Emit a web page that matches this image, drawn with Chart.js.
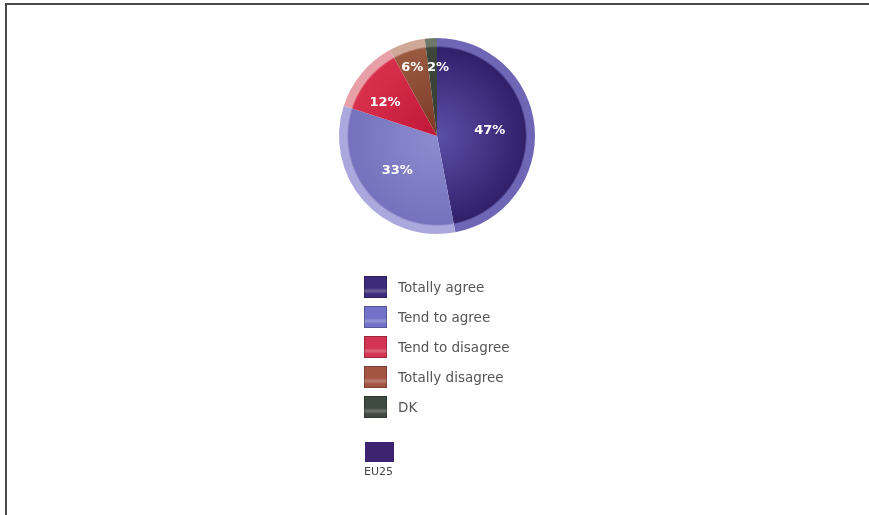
<!DOCTYPE html>
<html>
<head>
<meta charset="utf-8">
<script src="https://cdn.jsdelivr.net/npm/chart.js@4.4.0/dist/chart.umd.min.js"></script>
<style>
  html, body { margin: 0; padding: 0; background: #fff; }
  #frame { position: absolute; left: 5px; top: 3px; width: 864px; height: 512px;
           border-top: 2px solid #4a4a4a; border-left: 2px solid #4a4a4a; }
  #wrap { position: absolute; left: 0; top: 0; width: 869px; height: 515px; }
  .lg-item { position: absolute; left: 364px; height: 22px; }
  .lg-box { position: absolute; left: 0; top: 0; width: 23px; height: 22px; box-sizing: border-box; }
  .lg-text { position: absolute; left: 34px; top: 0; line-height: 22px; white-space: nowrap;
             font-family: "DejaVu Sans", sans-serif; font-size: 13.5px; color: #555; }
  #series-box { position: absolute; left: 365px; top: 442px; width: 29px; height: 20px; }
  #series-text { position: absolute; left: 364px; top: 465px; font-family: "DejaVu Sans", sans-serif;
                 font-size: 11px; color: #444; }
</style>
</head>
<body>
<div id="frame"></div>
<div id="wrap"><canvas id="pie"></canvas></div>
<div id="legend"></div>
<div id="series-box"></div>
<div id="series-text"></div>
<script>
// data
const categories = ["Totally agree", "Tend to agree", "Tend to disagree", "Totally disagree", "DK"];
const values = [47, 33, 12, 6, 2];
const seriesName = "EU25";

// slice shading: [inner, edge, rim]
const shades = [
  ["#5c4fa8", "#31206a", "#7066b6"],
  ["#8e8cd0", "#7472bc", "#aba8de"],
  ["#c01638", "#d8304c", "#e8a0a8"],
  ["#7a3826", "#9a5a40", "#d0a898"],
  ["#384036", "#3e463c", "#6e786a"]
];
const legendColors = ["#3e2b7a", "#7272c8", "#d23452", "#a45442", "#3f4a40"];
const seriesColor = "#3b2370";
// label placement: fraction of radius, angle nudge in degrees
const labelRadius = [0.54, 0.54, 0.63, 0.74, 0.70];
const labelNudge = [0, 0, -7, -2, 4.4];

function sliceFill(ctx) {
  const chart = ctx.chart;
  const area = chart.chartArea;
  const s = shades[ctx.dataIndex];
  if (!area) return s[0];
  const cx = (area.left + area.right) / 2;
  const cy = (area.top + area.bottom) / 2;
  const r = Math.min(area.right - area.left, area.bottom - area.top) / 2;
  const g = chart.ctx.createRadialGradient(cx, cy, 0, cx, cy, r);
  g.addColorStop(0, s[0]);
  g.addColorStop(0.9, s[1]);
  g.addColorStop(0.92, s[2]);
  g.addColorStop(1, s[2]);
  return g;
}

const pctLabels = {
  id: "pctLabels",
  afterDatasetsDraw(chart) {
    const ctx = chart.ctx;
    const arcs = chart.getDatasetMeta(0).data;
    ctx.save();
    ctx.font = "bold 13px 'DejaVu Sans', sans-serif";
    ctx.fillStyle = "#fff";
    ctx.textAlign = "center";
    ctx.textBaseline = "middle";
    arcs.forEach((arc, i) => {
      const p = arc.getProps(["x", "y", "startAngle", "endAngle", "outerRadius"], true);
      const mid = (p.startAngle + p.endAngle) / 2 + labelNudge[i] * Math.PI / 180;
      const rr = p.outerRadius * labelRadius[i];
      ctx.fillText(values[i] + "%", p.x + Math.cos(mid) * rr, p.y + Math.sin(mid) * rr);
    });
    ctx.restore();
  }
};

new Chart(document.getElementById("pie"), {
  type: "pie",
  data: {
    labels: categories,
    datasets: [{
      label: seriesName,
      data: values,
      backgroundColor: sliceFill,
      borderWidth: 0
    }]
  },
  options: {
    responsive: true,
    maintainAspectRatio: false,
    animation: false,
    layout: { padding: { left: 339, right: 334, top: 38, bottom: 281 } },
    plugins: { legend: { display: false }, tooltip: { enabled: false } }
  },
  plugins: [pctLabels]
});

// legend
const legend = document.getElementById("legend");
categories.forEach((name, i) => {
  const item = document.createElement("div");
  item.className = "lg-item";
  item.style.top = (276 + 30 * i) + "px";
  const box = document.createElement("div");
  box.className = "lg-box";
  const c = legendColors[i];
  box.style.background = "linear-gradient(" + c + " 0 55%, rgba(255,255,255,0.25) 70%, " + c + " 85%)";
  box.style.backgroundColor = c;
  box.style.border = "1px solid rgba(0,0,0,0.25)";
  const txt = document.createElement("div");
  txt.className = "lg-text";
  txt.textContent = name;
  item.appendChild(box);
  item.appendChild(txt);
  legend.appendChild(item);
});
document.getElementById("series-box").style.background = seriesColor;
document.getElementById("series-text").textContent = seriesName;
</script>
</body>
</html>
